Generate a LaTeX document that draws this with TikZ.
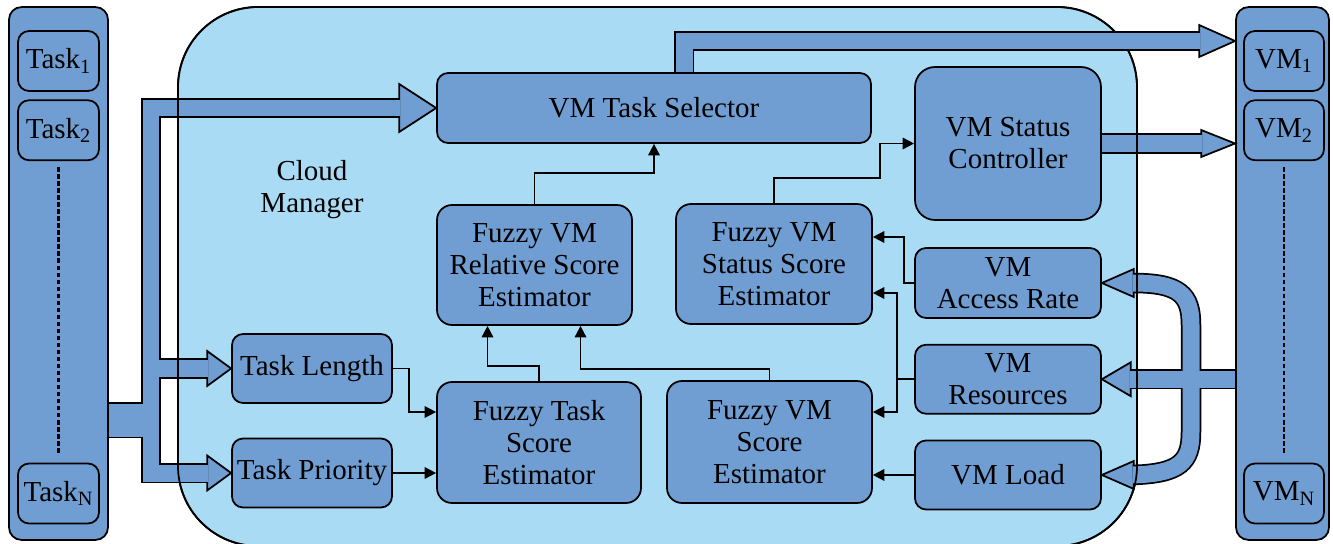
\documentclass[tikz,border=0pt]{standalone}
\usepackage{fontspec}
\setmainfont{Liberation Serif}
\usetikzlibrary{calc,positioning,arrows.meta}

\definecolor{boxblue}{RGB}{112,158,210}
\definecolor{cloudblue}{RGB}{170,219,245}

\tikzset{
  box/.style={draw, fill=boxblue, rounded corners=0.22cm, align=center, inner sep=0pt, line width=1pt},
  link/.style={line width=1pt, -{Triangle[length=6.5pt,width=6.5pt]}},
  head/.style={draw, fill=boxblue, line width=1pt, line join=miter},
  fatedge/.style={draw=black, line width=0.41cm},
  fatbody/.style={draw=boxblue, line width=0.34cm},
}

\begin{document}
\begin{tikzpicture}[x=0.02cm, y=-0.02cm, font=\fontsize{16.5}{18.2}\selectfont]
    \useasboundingbox (0,0) rectangle (1333,544);

    \draw[fill=cloudblue, line width=1pt, rounded corners=1.6cm] (178,7) rectangle (1137,546);
    \node[align=center] (mgr) at (312,190) {Cloud\\Manager};

    \node[box, rounded corners=0.25cm, minimum width=1.98cm, minimum height=10.66cm] (tasks) at (58.5,273.5) {};
    \node[box, minimum width=1.62cm, minimum height=1.2cm] (t1) at (58.5,61) {Task\textsubscript{1}};
    \node[box, minimum width=1.62cm, minimum height=1.2cm] (t2) [below=0.15cm of t1] {Task\textsubscript{2}};
    \node[box, minimum width=1.62cm, minimum height=1.2cm] (tn) at (58.5,493.5) {Task\textsubscript{N}};
    \draw[dash pattern=on 2.5pt off 1.5pt, line width=1.2pt, shorten <=0.12cm, shorten >=0.16cm] (t2) -- (tn);

    \node[box, rounded corners=0.25cm, minimum width=1.86cm, minimum height=10.66cm] (vms) at (1282.5,273.5) {};
    \node[box, minimum width=1.6cm, minimum height=1.2cm] (vm1) at (1284,61) {VM\textsubscript{1}};
    \node[box, minimum width=1.6cm, minimum height=1.2cm] (vm2) [below=0.15cm of vm1] {VM\textsubscript{2}};
    \node[box, minimum width=1.6cm, minimum height=1.2cm] (vmn) at (1284,493.5) {VM\textsubscript{N}};
    \draw[dash pattern=on 2.5pt off 1.5pt, line width=1.2pt, shorten <=0.12cm, shorten >=0.16cm] (vm2) -- (vmn);

    \node[box, minimum width=8.68cm, minimum height=1.4cm] (sel) at (654,108) {VM Task Selector};
    \node[box, rounded corners=0.3cm, minimum width=3.9cm, minimum height=2.4cm] (rel) at (534.5,265) {Fuzzy VM\\Relative Score\\Estimator};
    \node[box, rounded corners=0.3cm, minimum width=3.92cm, minimum height=2.4cm] (sts) at (774,264) {Fuzzy VM\\Status Score\\Estimator};
    \node[box, rounded corners=0.3cm, minimum width=4.08cm, minimum height=2.42cm] (fts) at (539,442.5) {Fuzzy Task\\Score\\Estimator};
    \node[box, rounded corners=0.3cm, minimum width=4.1cm, minimum height=2.44cm] (fvs) at (769.5,442) {Fuzzy VM\\Score\\Estimator};
    \node[box, rounded corners=0.4cm, minimum width=3.72cm, minimum height=3.06cm] (ctl) at (1008,143.5) {VM Status\\Controller};
    \node[box, minimum width=3.72cm, minimum height=1.4cm] (acc) at (1008,283) {VM\\Access Rate};
    \node[box, minimum width=3.72cm, minimum height=1.38cm] (res) [below=0.5cm of acc] {VM\\Resources};
    \node[box, minimum width=3.72cm, minimum height=1.38cm] (load) [below=0.5cm of res] {VM Load};
    \node[box, minimum width=3.2cm, minimum height=1.38cm] (len) at (312,368.5) {Task Length};
    \node[box, minimum width=3.2cm, minimum height=1.38cm] (prio) at (312,473) {Task Priority};

    \filldraw[head] ($(sel.west)+(-37,-24)$) -- (sel.west) -- ($(sel.west)+(-37,24)$) -- cycle;
    \filldraw[head] ($(len.west)+(-24,-17.5)$) -- (len.west) -- ($(len.west)+(-24,17.5)$) -- cycle;
    \filldraw[head] ($(prio.west)+(-24,-17.5)$) -- (prio.west) -- ($(prio.west)+(-24,17.5)$) -- cycle;
    \filldraw[head] ($(vms.west |- ctl.east)+(-34,-13.5)$) -- (vms.west |- ctl.east) -- ($(vms.west |- ctl.east)+(-34,13.5)$) -- cycle;
    \filldraw[head] ($(res.east)+(29,-17)$) -- (res.east) -- ($(res.east)+(29,17)$) -- cycle;
    \filldraw[head] ($(acc.east)+(32,-14)$) -- (acc.east) -- ($(acc.east)+(32,14)$) -- cycle;
    \filldraw[head] ($(load.east)+(32,-14)$) -- (load.east) -- ($(load.east)+(32,14)$) -- cycle;

    \foreach \pass in {fatedge,fatbody} {
      \draw[\pass] (tasks.east |- 0,412) -| (151,108) -- ($(sel.west)+(-36,0)$);
      \draw[\pass] (tasks.east |- 0,428) -| (151,473) -- ($(prio.west)+(-23,0)$);
      \draw[\pass] (151,368.5) -- ($(len.west)+(-23,0)$);
      \draw[\pass] (ctl.east) -- ($(vms.west |- ctl.east)+(-33,0)$);
      \draw[\pass] (vms.west |- res.east) -- ($(res.east)+(28,0)$);
      \draw[\pass] ($(acc.east)+(31,0)$) .. controls (1180,283) and (1191,295) .. (1191,325)
        -- (1191,432) .. controls (1191,462) and (1180,473.5) .. ($(load.east)+(31,0)$);
    }

    \draw[line width=1pt, rounded corners=1.6cm] (178,7) rectangle (1137,546);

    \filldraw[head] ($(vms.west |- 0,41)+(-36,-16)$) -- (vms.west |- 0,41) -- ($(vms.west |- 0,41)+(-36,16)$) -- cycle;
    \foreach \pass in {fatedge,fatbody}
      \draw[\pass] ($(sel.north)+(30,-0.5)$) |- ($(vms.west |- 0,41)+(-35,0)$);

    \draw[link] (rel.north) -- ++(0,-31) -| (sel.south);
    \draw[link] (fts.north) -- ++(0,-15) -| ($(rel.south)+(-47,0)$);
    \draw[link] (fvs.north) -- ++(0,-11) -| ($(rel.south)+(46,0)$);
    \draw[link] (sts.north) -- ++(0,-25) -- ++(106,0) |- (ctl.west);
    \draw[link] (acc.west) -- ++(-10,0) |- ($(sts.east)+(0,-27)$);
    \draw[link] (res.west) -- ++(-17,0) |- ($(sts.east)+(0,29)$);
    \draw[link] (res.west) -- ++(-17,0) |- ($(fvs.east)+(0,-30)$);
    \draw[link] (load.west) -- (load.west -| fvs.east);
    \draw[link] (len.east) -- ++(16,0) |- ($(fts.west)+(0,-30.5)$);
    \draw[link] (prio.east) -- (prio.east -| fts.west);
\end{tikzpicture}
\end{document}
